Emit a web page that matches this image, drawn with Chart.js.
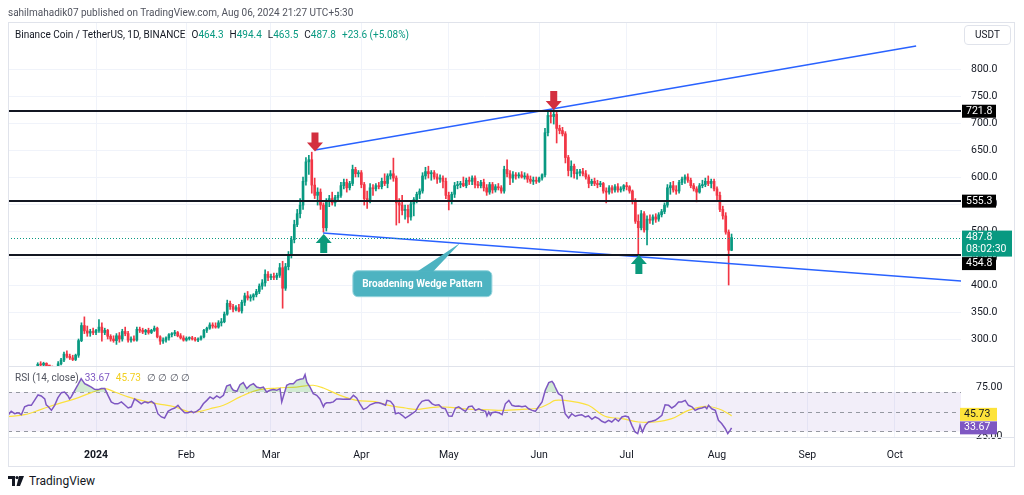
<!DOCTYPE html>
<html>
<head>
<meta charset="utf-8">
<title>BNB / USDT 1D</title>
<script src="https://cdn.jsdelivr.net/npm/chart.js@4.4.1/dist/chart.umd.min.js"></script>
<style>
  html, body { margin: 0; padding: 0; background: #fff; }
  body { width: 1024px; height: 495px; position: relative; overflow: hidden;
         font-family: Roboto, "Liberation Sans", sans-serif; color: #131722; }
  canvas { position: absolute; left: 0; }
  #priceCanvas { top: 0; }
  #rsiCanvas { top: 366px; }
  .frame { position: absolute; left: 8px; top: 22px; width: 1007px; height: 445px;
           border: 1px solid #e0e3eb; box-sizing: border-box; }
  .sep { position: absolute; left: 8px; width: 1007px; height: 1px; background: #e0e3eb; }
  .publisher { position: absolute; left: 8px; top: 7px; font-size: 10px; color: #50535e; white-space: nowrap; }
  .legend { position: absolute; left: 15px; font-size: 10px; white-space: nowrap; }
  .legend span { margin-left: 6px; }
  .legend span:first-child { margin-left: 0; }
  .g { color: #089981; }
  .usdt { position: absolute; left: 964px; top: 25px; width: 47px; height: 20px; border: 1px solid #e0e3eb;
          border-radius: 4px; box-sizing: border-box; font-size: 10px; text-align: center; line-height: 18px; }
  .logo { position: absolute; left: 8px; top: 474px; font-size: 12px; display: flex; align-items: center; }
  .logo svg { margin-right: 5px; }
</style>
</head>
<body>
<canvas id="priceCanvas" width="1024" height="366"></canvas>
<canvas id="rsiCanvas" width="1024" height="101"></canvas>
<div class="frame"></div>
<div class="sep" style="top:366px"></div>
<div class="sep" style="top:437px"></div>
<div class="publisher">sahilmahadik07 published on TradingView.com, Aug 06, 2024 21:27 UTC+5:30</div>
<div class="legend" style="top:29px"><span>Binance Coin / TetherUS, 1D, BINANCE</span><span>O<b class="g" style="font-weight:normal">464.3</b></span><span>H<b class="g" style="font-weight:normal">494.4</b></span><span>L<b class="g" style="font-weight:normal">463.5</b></span><span>C<b class="g" style="font-weight:normal">487.8</b></span><span class="g">+23.6 (+5.08%)</span></div>
<div class="legend" style="top:372px"><span style="color:#50535e">RSI (14, close)</span><span style="color:#7e57c2">33.67</span><span style="color:#f2cf1f">45.73</span><span style="color:#50535e">&#8709; &#8709; &#8709; &#8709;</span></div>
<div class="usdt">USDT</div>
<div class="logo"><svg width="16" height="10" viewBox="0 0 16 10"><path d="M0 0h7v10H4V3H0z M11 0h5l-4 10H8.5z" fill="#131722"/><circle cx="9" cy="1.6" r="1.6" fill="#131722"/></svg>TradingView</div>

<script>
// days are counted from Jan 1, 2024 (day 0)
const firstDay = -20; // Dec 12, 2023

// daily candles, Dec 12, 2023 .. Aug 6, 2024, one line per week
const opens = [
  248,253,252,255,248,247,244,
  246,254,261,272,268,265,262,
  270,297,325,315,311,314,312,
  316,322,312,316,305,300,297,
  306,300,314,310,298,300,298,
  318,316,313,316,312,316,320,
  304,296,298,302,308,310,312,
  306,302,298,301,302,300,298,
  300,304,316,320,326,324,322,
  330,332,346,366,360,355,358,
  352,368,380,376,378,382,388,
  398,404,420,414,416,414,418,
  432,394,434,456,484,512,532,
  548,592,628,632,585,566,572,
  548,506,555,560,552,562,566,
  584,590,580,588,614,606,608,
  586,560,556,580,578,584,582,
  592,588,602,606,598,552,548,
  538,540,526,550,558,568,574,
  602,610,606,608,600,596,598,
  592,566,556,568,584,586,588,
  584,594,592,598,586,584,590,
  580,572,586,576,582,580,574,
  614,606,598,604,602,604,600,
  602,596,592,594,592,598,604,
  682,714,712,716,690,686,680,
  636,612,620,606,608,610,606,
  600,588,592,588,586,588,574,
  572,580,576,582,576,578,584,
  582,574,556,518,506,532,502,
  522,520,526,522,530,536,548,
  580,584,576,574,590,596,600,
  594,584,578,572,584,586,592,
  588,592,578,566,540,528,498,
  464.3
];
const highs = [
  256,258,257,256,251,250,248,
  258,264,276,278,272,270,272,
  300,330,341,324,318,320,318,
  336,330,320,318,308,306,310,
  312,318,322,314,304,306,322,
  322,320,318,320,318,324,322,
  306,302,304,310,312,316,314,
  310,306,304,304,305,303,302,
  306,318,322,330,330,330,334,
  338,350,372,370,364,362,364,
  372,385,388,382,384,392,402,
  410,428,425,420,422,422,440,
  444,440,462,490,520,540,560,
  600,636,640,646,598,580,578,
  552,560,566,572,566,572,590,
  596,596,592,622,618,612,612,
  590,574,588,586,588,590,598,
  606,606,612,635,602,560,566,
  548,548,556,562,572,578,608,
  618,620,612,612,606,604,602,
  598,572,572,590,592,592,600,
  598,600,602,602,592,594,596,
  586,590,590,586,588,584,620,
  632,612,610,608,608,610,608,
  606,602,600,600,600,606,690,
  720,724,725,720,696,692,684,
  640,630,624,614,614,616,612,
  604,596,598,594,592,590,580,
  584,584,586,588,582,586,590,
  584,576,560,530,538,536,528,
  530,530,532,534,540,552,586,
  590,592,584,594,600,604,606,
  598,588,582,588,594,598,602,
  596,596,582,572,546,534,502,
  494.4
];
const lows = [
  245,250,249,246,244,242,238,
  244,252,258,265,262,260,260,
  266,295,310,305,305,308,308,
  312,296,308,300,296,294,290,
  294,296,306,294,294,296,296,
  312,310,308,309,310,314,302,
  290,292,294,298,304,306,304,
  300,296,296,298,298,296,295,
  298,302,312,318,320,320,320,
  324,330,344,355,350,352,350,
  348,362,372,370,372,378,384,
  392,398,408,410,410,410,414,
  357,390,428,450,478,508,524,
  540,585,605,570,560,548,540,
  498,500,545,548,546,556,562,
  578,572,576,584,600,600,580,
  548,542,552,566,574,578,578,
  584,580,596,592,511,515,530,
  522,515,520,528,552,560,570,
  596,598,594,596,588,590,580,
  560,539,550,562,578,580,582,
  580,586,586,580,580,580,574,
  566,568,570,572,576,570,570,
  600,586,590,596,598,598,596,
  590,588,586,588,590,594,600,
  676,700,698,663,680,676,626,
  602,600,598,596,602,602,596,
  580,584,584,580,582,570,552,
  568,570,572,572,572,574,576,
  570,550,514,456,502,498,474,
  514,512,516,518,526,532,544,
  568,572,568,570,586,588,590,
  580,574,554,570,580,582,584,
  580,574,556,536,522,494,400,
  463.5
];
const closes = [
  253,252,255,248,247,244,246,
  254,261,272,268,265,262,270,
  297,325,315,311,314,312,316,
  322,312,316,305,300,297,306,
  300,314,310,298,300,298,318,
  316,313,316,312,316,320,304,
  296,298,302,308,310,312,306,
  302,298,301,302,300,298,300,
  304,316,320,326,324,322,330,
  332,346,366,360,355,358,352,
  368,380,376,378,382,388,398,
  404,420,414,416,414,418,432,
  394,434,456,484,512,532,548,
  592,628,632,585,566,572,548,
  506,555,560,552,562,566,584,
  590,580,588,614,606,608,586,
  560,556,580,578,584,582,592,
  588,602,606,598,552,548,538,
  540,526,550,558,568,574,602,
  610,606,608,600,596,598,592,
  566,556,568,584,586,588,584,
  594,592,598,586,584,590,580,
  572,586,576,582,580,574,614,
  606,598,604,602,604,600,602,
  596,592,594,592,598,604,682,
  714,712,716,690,686,680,636,
  612,620,606,608,610,606,600,
  588,592,588,586,588,574,572,
  580,576,582,576,578,584,582,
  574,556,518,506,532,502,522,
  520,526,522,530,536,548,580,
  584,576,574,590,596,600,594,
  584,578,572,584,586,592,588,
  592,578,566,540,528,498,464.3,
  487.8
];

// RSI (14, close): [day, value]
const rsi = [
  [-30.2,46.4],[-29.1,50.4],[-27.9,48],[-26.8,49],[-25.6,47],[-24.5,55],[-23.3,56.5],[-22.2,56.5],
  [-21.1,61.5],[-19.9,67],[-18.8,66],[-17.6,63],[-17.1,57],[-16.5,55.5],[-15.3,51.4],[-14.2,56.5],
  [-13.1,64],[-11.9,69.3],[-10.8,70],[-9.6,66],[-9.1,63],[-8.5,65],[-7.3,71.7],[-6.2,77.4],
  [-5.1,83.5],[-4.5,81],[-3.9,78.4],[-2.8,76.8],[-1.6,75],[-0.5,72.7],[0.7,72.4],[1.8,73.4],
  [3.0,73.4],[4.1,66.6],[5.2,59.9],[6.4,58],[7.5,58],[8.7,60],[9.8,57],[11.0,53.8],
  [12.1,55],[13.2,63],[14.4,60.5],[15.5,58],[16.7,60],[17.8,59],[19.0,60.5],[20.1,58],
  [21.2,48],[22.4,44.7],[23.5,43.6],[24.7,50.4],[25.8,52.4],[27.0,53.8],[28.1,56.5],[29.2,52.4],
  [30.4,49],[31.5,49],[32.7,50.4],[33.4,49],[34.5,50.4],[35.7,53],[36.8,58],[38.0,61.5],
  [39.1,65],[40.2,63],[41.4,66],[42.5,64],[43.7,66.6],[44.8,76],[46.0,77.4],[46.5,74],
  [47.1,71.7],[48.3,70.7],[49.4,77.4],[50.5,79.5],[51.7,73.4],[52.8,76.8],[54.0,78.4],[55.1,75],
  [56.3,74],[57.4,75],[58.5,70],[59.7,71.7],[60.8,72.4],[62.0,71.7],[63.1,73.4],[63.7,60],
  [64.2,65],[65.4,76.8],[66.5,78.4],[67.7,78.4],[68.8,81.8],[70.0,82.8],[71.1,83.5],[71.7,87.6],
  [72.3,80],[73.4,75],[74.5,68.3],[75.7,66.6],[76.8,63],[78.0,55],[78.5,58],[79.1,59],
  [80.3,59],[81.4,60],[82.5,63],[83.7,63],[84.8,62.6],[86.0,63],[87.1,62.6],[88.3,66.6],
  [89.4,64],[90.5,58],[91.7,52.4],[92.8,53.8],[94.0,57],[95.8,59],[97.0,59],[98.1,58],
  [99.3,56.5],[99.8,61.5],[101.0,60.5],[102.1,56.5],[102.7,48],[103.8,49],[105.0,46.4],[106.1,43.6],
  [107.3,45.7],[108.4,48],[109.6,50.4],[110.7,56.5],[111.8,60.5],[113.0,61.5],[114.1,61.5],[115.3,58],
  [116.4,56.5],[117.6,57],[118.7,53.8],[119.8,53],[121.0,45.7],[122.1,45.4],[123.3,53.8],[124.4,55],
  [125.6,52.4],[126.7,50.4],[127.8,55],[129.0,55.8],[130.1,51.4],[131.3,53],[132.4,51.4],[133.6,50.4],
  [134.1,45.7],[134.7,49.7],[135.3,46.4],[135.8,49],[137.0,49.7],[138.1,49],[139.3,47],[140.4,58],
  [141.6,61.5],[142.7,56.5],[143.8,55.5],[145.0,55.8],[146.1,55],[147.3,55.8],[148.4,53],[149.6,51.4],
  [150.7,50.4],[151.8,55],[153.0,59.9],[154.1,71.7],[155.3,79.5],[156.4,80.8],[157.0,78.4],[157.5,75],
  [158.6,68.3],[159.8,66],[160.9,48],[162.1,43.6],[163.2,48],[164.4,45.4],[165.5,46.4],[166.6,47],
  [167.8,44.7],[168.9,45.7],[170.1,42.3],[171.2,44.7],[172.4,43],[173.5,40.3],[174.6,38.9],[175.8,41.3],
  [176.9,39.6],[178.1,43],[179.2,40.3],[180.4,44.7],[181.5,45.7],[182.6,44.7],[183.8,36.2],[184.9,29.5],
  [185.8,27.8],[186.6,36.2],[187.4,29.5],[188.4,36.2],[189.5,39.6],[190.6,40.3],[191.8,41.3],[192.9,43.6],
  [194.1,46.4],[195.2,57],[196.4,56.5],[197.5,53.8],[198.6,55.8],[199.8,59.9],[200.9,59.9],[202.1,61.5],
  [203.2,56.5],[204.4,55],[205.5,51.4],[206.6,53],[207.8,53.8],[208.9,55],[209.5,53],[210.1,56.5],
  [211.2,53],[212.4,51.4],[213.5,41.3],[214.6,38],[215.8,33],[216.7,27.8],[217.5,31.1],[218,33.67]
];
// RSI-based moving average (yellow)
const rsiMa = [
  [-30.2,45],[-24.5,47],[-18.8,52.4],[-13.1,58],[-7.3,63],[-1.6,69.3],[3.0,73.4],[6.4,70],
  [11.0,65],[15.5,61.5],[21.2,58],[27.0,55],[32.3,49.5],[35.7,50.4],[39.1,53],[43.7,56.5],
  [49.4,65],[55.1,71.7],[62.0,74],[68.8,75],[74.5,76.8],[78.0,74],[83.7,66.6],[89.4,61.5],
  [95.7,60.2],[100.4,56.5],[106.1,53.8],[109.6,52.4],[117.6,55],[123.3,53.8],[129.0,52.4],[134.7,52],
  [139.3,51.4],[146.1,52.4],[151.8,53.8],[155.3,58],[157.5,61.5],[163.2,60.5],[168.9,56.5],[174.6,45.4],
  [180.4,43],[186.1,39.6],[191.8,39.6],[197.5,43],[203.2,51.4],[208.9,55.5],[213.5,53],[217.5,47],
  [218,45.73]
];

const monthDays = [0, 31, 60, 91, 121, 152, 182, 213, 244, 274];
const monthLabels = ['2024', 'Feb', 'Mar', 'Apr', 'May', 'Jun', 'Jul', 'Aug', 'Sep', 'Oct'];
const priceTicks = [300, 350, 400, 450, 500, 550, 600, 650, 700, 750, 800];
const rsiTicks = [25, 75];

const levels = [721.8, 555.3, 454.8];
const lastPrice = 487.8;
const countdown = '08:02:30';
const lastRsi = 33.67;
const lastRsiMa = 45.73;

// wedge lines, anchors: [day, price]
const upperTrend = [[75.1, 650], [281.3, 842.6]];
const lowerTrend = [[77.9, 496.3], [297, 407.4]];
// arrow tips
const markers = [
  { day: 75.1, price: 647, dir: 'down' },
  { day: 157.0, price: 724, dir: 'down' },
  { day: 78.1, price: 494.4, dir: 'up' },
  { day: 186.2, price: 455.6, dir: 'up' }
];
const callout = { day: 88.1, price: 426.5, tipDay: 124.9, tipPrice: 477.8, text: 'Broadening Wedge Pattern' };

const UP = '#089981', DOWN = '#f23645', BLUE = '#2962ff', GRID = '#f0f3fa';
const X_MIN = -30.2, X_MAX = 296.7;
const FONT = 'Roboto, "Liberation Sans", sans-serif';

Chart.defaults.font.family = FONT;
Chart.defaults.font.size = 10;
Chart.defaults.color = '#131722';

const candleColor = c => closes[c.dataIndex] >= opens[c.dataIndex] ? UP : DOWN;
const bodies = opens.map((o, i) => ({ x: firstDay + i, y: [o, closes[i]] }));
const wicks = lows.map((l, i) => ({ x: firstDay + i, y: [l, highs[i]] }));
const toXY = arr => arr.map(([x, y]) => ({ x, y }));

function monthAxis(showLabels) {
  return {
    type: 'linear', min: X_MIN, max: X_MAX, offset: false, bounds: 'data',
    grid: { color: GRID, drawTicks: false, offset: false },
    border: { display: false },
    afterBuildTicks: s => { s.ticks = monthDays.map(v => ({ value: v })); },
    ticks: showLabels ? {
      padding: 12,
      maxRotation: 0,
      autoSkip: false,
      callback: (v, i) => monthLabels[i],
      font: c => ({ size: 10.5, weight: c.index === 0 ? 'bold' : 'normal' })
    } : { display: false },
    afterFit: s => { s.height = showLabels ? 30 : 0; s.paddingLeft = 0; s.paddingRight = 0; }
  };
}

function drawArrow(ctx, tx, ty, dir) {
  const s = dir === 'down' ? -1 : 1;
  ctx.fillStyle = dir === 'down' ? '#d32f3f' : '#0c9a7c';
  ctx.beginPath();
  ctx.moveTo(tx, ty);
  ctx.lineTo(tx - 8, ty + s * 9);
  ctx.lineTo(tx - 3.5, ty + s * 9);
  ctx.lineTo(tx - 3.5, ty + s * 19);
  ctx.lineTo(tx + 3.5, ty + s * 19);
  ctx.lineTo(tx + 3.5, ty + s * 9);
  ctx.lineTo(tx + 8, ty + s * 9);
  ctx.closePath();
  ctx.fill();
}

function badge(ctx, left, top, w, h, bg, fg, lines) {
  ctx.fillStyle = bg;
  ctx.fillRect(left, top, w, h);
  ctx.fillStyle = fg;
  ctx.font = '10.5px ' + FONT;
  ctx.textBaseline = 'middle';
  ctx.textAlign = 'left';
  lines.forEach((t, i) => ctx.fillText(t, left + 4, top + 6.5 + i * 12.5));
}

const priceDecor = {
  id: 'priceDecor',
  afterDatasetsDraw(chart) {
    const { ctx, chartArea: a, scales: { x, y } } = chart;
    ctx.save();
    // last price dotted line
    const py = Math.round(y.getPixelForValue(lastPrice)) + 0.5;
    ctx.strokeStyle = UP;
    ctx.lineWidth = 1;
    ctx.setLineDash([1, 2]);
    ctx.beginPath(); ctx.moveTo(a.left, py); ctx.lineTo(a.right, py); ctx.stroke();
    ctx.setLineDash([]);
    // support / resistance levels
    ctx.strokeStyle = '#131722';
    ctx.lineWidth = 2;
    levels.forEach(v => {
      const ly = Math.round(y.getPixelForValue(v));
      ctx.beginPath(); ctx.moveTo(a.left, ly); ctx.lineTo(a.right, ly); ctx.stroke();
    });
    markers.forEach(m => drawArrow(ctx, x.getPixelForValue(m.day), y.getPixelForValue(m.price), m.dir));

    // callout
    const bx = x.getPixelForValue(callout.day), by = y.getPixelForValue(callout.price);
    const tx = x.getPixelForValue(callout.tipDay), ty = y.getPixelForValue(callout.tipPrice);
    const bw = 139, bh = 26;
    ctx.fillStyle = '#4db3c1';
    ctx.strokeStyle = '#93d3dc';
    ctx.lineWidth = 1;
    ctx.beginPath();
    ctx.roundRect(bx, by, bw, bh, 5);
    ctx.fill();
    ctx.stroke();
    ctx.beginPath();
    ctx.moveTo(bx + 64, by + 1);
    ctx.lineTo(tx, ty);
    ctx.lineTo(bx + 80, by + 1);
    ctx.closePath();
    ctx.fill();
    ctx.fillStyle = '#fff';
    ctx.font = 'bold 10px ' + FONT;
    ctx.textAlign = 'center';
    ctx.textBaseline = 'middle';
    ctx.fillText(callout.text, bx + bw / 2, by + bh / 2 + 0.5);
    ctx.restore();
  },
  afterDraw(chart) {
    const { ctx, chartArea: a, scales: { y } } = chart;
    ctx.save();
    const left = a.right + 1;
    const pTop = y.getPixelForValue(lastPrice) - 7;
    badge(ctx, left, pTop, 50, 26, UP, '#fff', [lastPrice.toFixed(1), countdown]);
    levels.forEach(v => {
      let top = y.getPixelForValue(v) - 6.5;
      if (top < pTop + 26 && top + 13 > pTop) top = pTop + 26.5;
      badge(ctx, left, top, 34, 13, '#000', '#fff', [v.toFixed(1)]);
    });
    ctx.restore();
  }
};

const rsiDecor = {
  id: 'rsiDecor',
  beforeDatasetsDraw(chart) {
    const { ctx, chartArea: a, scales: { y } } = chart;
    ctx.save();
    const y70 = y.getPixelForValue(70), y30 = y.getPixelForValue(30), y50 = y.getPixelForValue(50);
    ctx.fillStyle = 'rgba(126,87,194,0.1)';
    ctx.fillRect(a.left, y70, a.right - a.left, y30 - y70);
    ctx.strokeStyle = '#9598a1';
    ctx.lineWidth = 1;
    ctx.setLineDash([4, 4]);
    [y70, y50, y30].forEach(v => {
      const yy = Math.round(v) + 0.5;
      ctx.beginPath(); ctx.moveTo(a.left, yy); ctx.lineTo(a.right, yy); ctx.stroke();
    });
    ctx.restore();
  },
  afterDraw(chart) {
    const { ctx, chartArea: a, scales: { y } } = chart;
    ctx.save();
    const left = a.right - 1;
    const rTop = y.getPixelForValue(lastRsi) - 6.5;
    const mTop = Math.min(y.getPixelForValue(lastRsiMa) - 6.5, rTop - 13.5);
    badge(ctx, left, mTop, 37, 13, '#fde33a', '#131722', [lastRsiMa.toFixed(2)]);
    badge(ctx, left, rTop, 37, 13, '#7e57c2', '#fff', [lastRsi.toFixed(2)]);
    ctx.restore();
  }
};

new Chart(document.getElementById('priceCanvas'), {
  type: 'bar',
  data: {
    datasets: [
      { type: 'line', data: toXY(upperTrend), borderColor: BLUE, borderWidth: 1.5, pointRadius: 0, order: 1 },
      { type: 'line', data: toXY(lowerTrend), borderColor: BLUE, borderWidth: 1.5, pointRadius: 0, order: 1 },
      { data: bodies, backgroundColor: candleColor, barThickness: 2, minBarLength: 1, grouped: false, order: 2 },
      { data: wicks, backgroundColor: candleColor, barThickness: 1, grouped: false, order: 3 }
    ]
  },
  options: {
    responsive: false,
    animation: false,
    events: [],
    layout: { padding: { left: 8, top: 22, right: 9, bottom: 0 } },
    plugins: { legend: { display: false }, tooltip: { enabled: false } },
    scales: {
      x: monthAxis(false),
      y: {
        position: 'right', min: 250, max: 887.04, bounds: 'data',
        grid: { color: GRID, drawTicks: false },
        border: { display: false },
        afterBuildTicks: s => { s.ticks = priceTicks.map(v => ({ value: v })); },
        ticks: { padding: 10, font: { size: 10.5 }, callback: v => v.toFixed(1) },
        afterFit: s => { s.width = 54; s.paddingTop = 0; s.paddingBottom = 0; }
      }
    }
  },
  plugins: [priceDecor]
});

new Chart(document.getElementById('rsiCanvas'), {
  type: 'line',
  data: {
    datasets: [
      { data: toXY(rsi), borderColor: '#7e57c2', borderWidth: 1.5, pointRadius: 0, order: 1,
        fill: { target: { value: 70 }, above: 'rgba(76,175,80,0.25)', below: 'rgba(0,0,0,0)' } },
      { data: toXY(rsiMa), borderColor: '#fbe13f', borderWidth: 1.2, pointRadius: 0, tension: 0.35, fill: false, order: 2 }
    ]
  },
  options: {
    responsive: false,
    animation: false,
    events: [],
    layout: { padding: { left: 8, top: 1, right: 9, bottom: 0 } },
    plugins: { legend: { display: false }, tooltip: { enabled: false } },
    scales: {
      x: monthAxis(true),
      y: {
        position: 'right', min: 24.4, max: 95.3, bounds: 'data',
        grid: { display: false },
        border: { display: false },
        afterBuildTicks: s => { s.ticks = rsiTicks.map(v => ({ value: v })); },
        ticks: { padding: 7, font: { size: 10.5 }, callback: v => v.toFixed(2) },
        afterFit: s => { s.width = 54; s.paddingTop = 0; s.paddingBottom = 0; }
      }
    }
  },
  plugins: [rsiDecor]
});
</script>
</body>
</html>
